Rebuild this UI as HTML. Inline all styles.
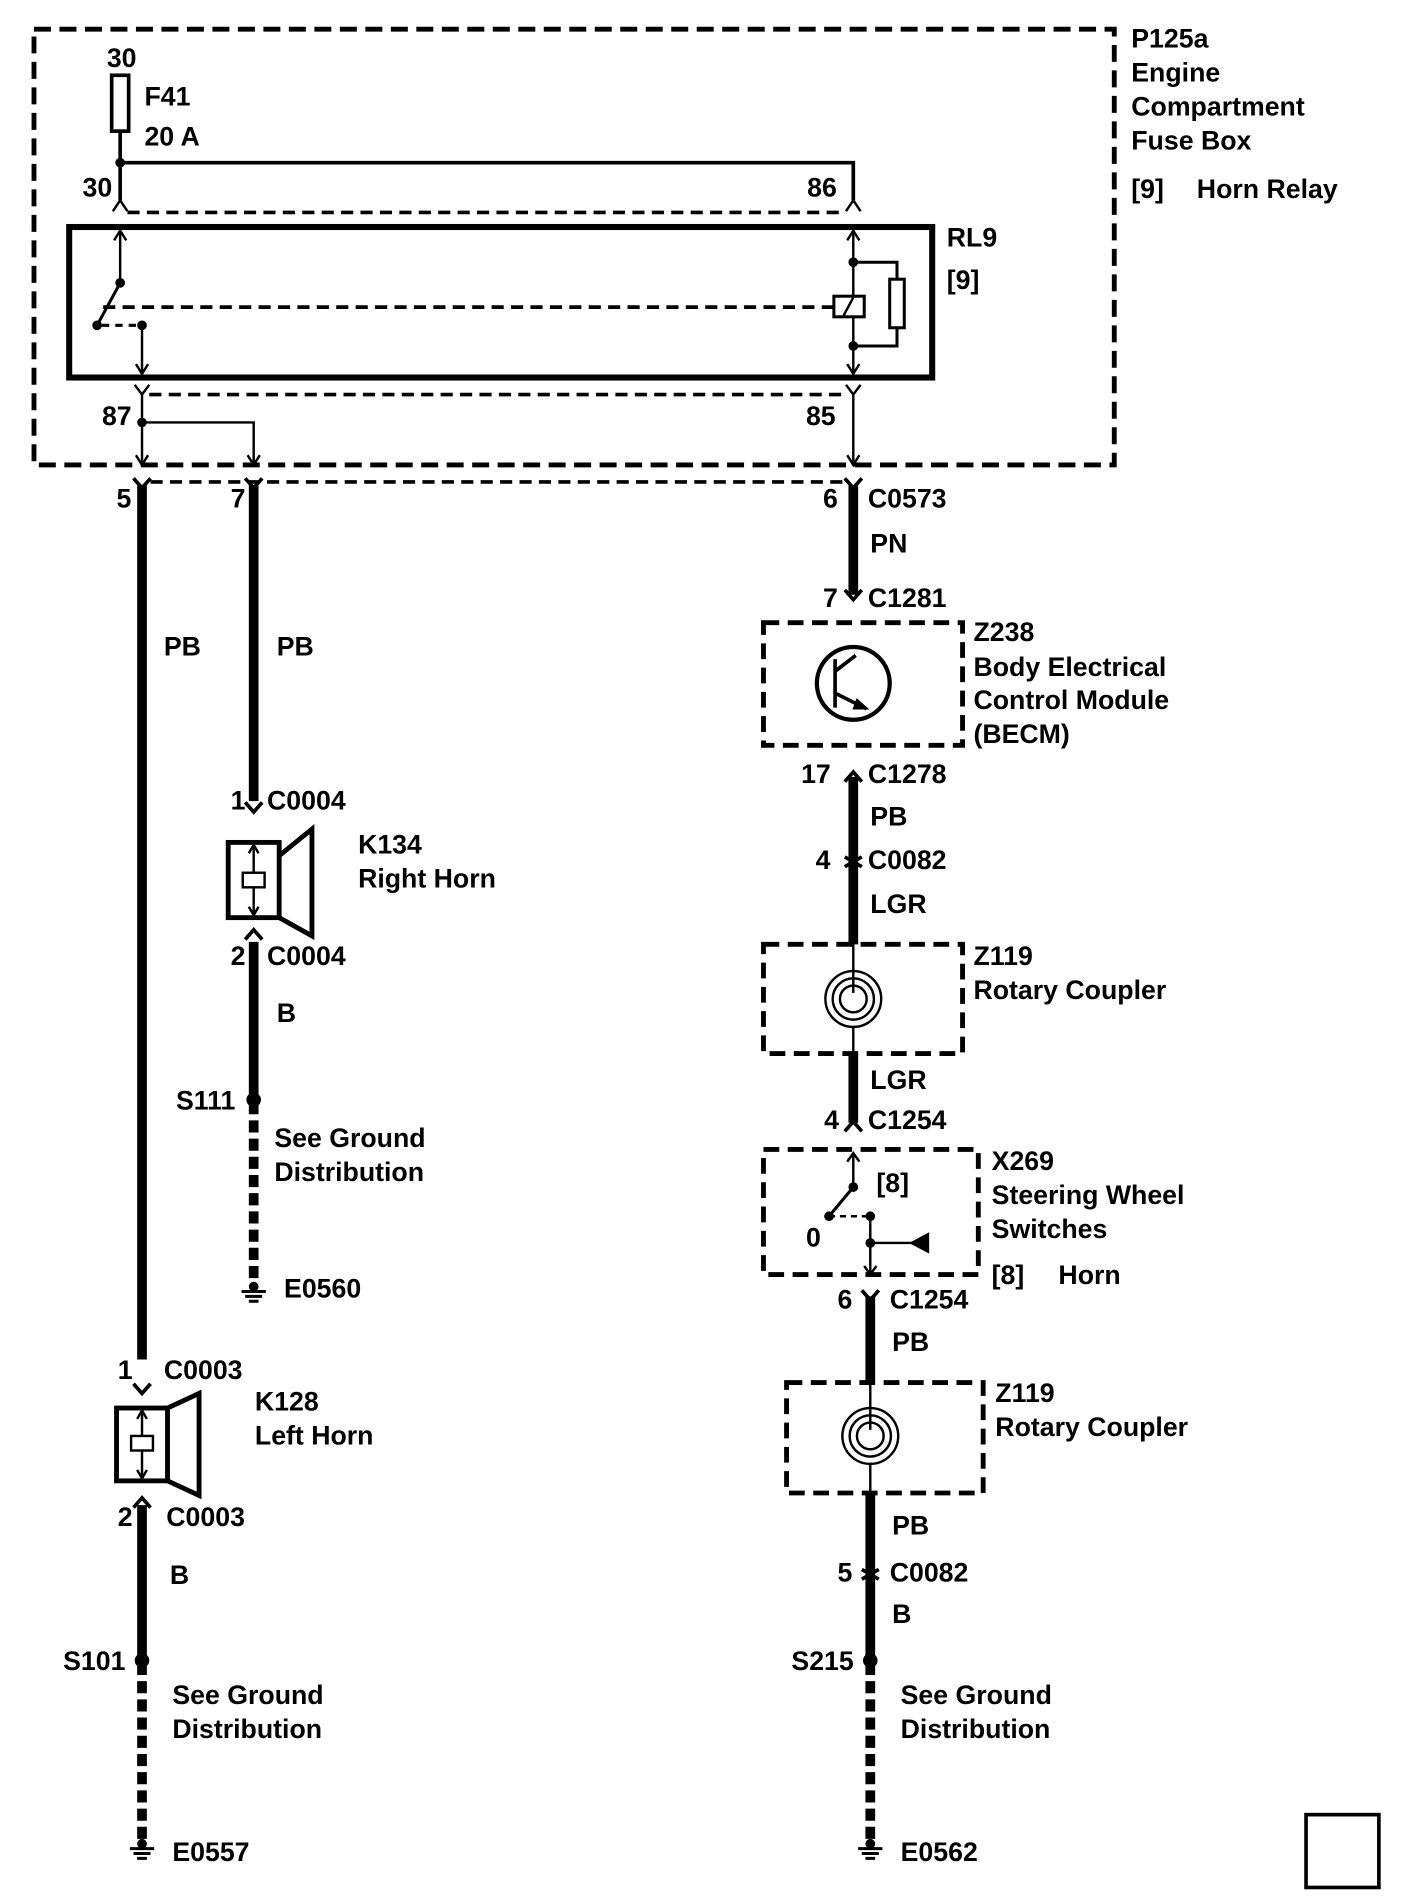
<!DOCTYPE html>
<html><head><meta charset="utf-8"><style>
html,body{margin:0;padding:0;background:#fff}
svg{display:block}
text{font-family:"Liberation Sans",Arial,sans-serif;font-weight:bold;font-size:22px;fill:#000}
</style></head><body>
<svg width="1408" height="1896" viewBox="0 0 1160 1562" xmlns="http://www.w3.org/2000/svg">
<g fill="none" stroke="#000">
<rect x="28" y="24" width="890" height="359" stroke-width="4" stroke-dasharray="14,7"/>
<rect x="92" y="62" width="14" height="46" stroke-width="3"/>
<path d="M99 108V165M99 134H703V165" stroke-width="3"/>
<path d="M93 174l6-9 6 9M697 174l6-9 6 9" stroke-width="2"/>
<path d="M105 175H697" stroke-width="3" stroke-dasharray="10,6"/>
<rect x="57" y="187" width="711" height="124" stroke-width="5"/>
<path d="M99 190V233M94 198l5-8 5 8" stroke-width="2"/>
<path d="M99 233L80 268" stroke-width="2.5"/>
<path d="M85 253H687" stroke-width="3" stroke-dasharray="10,6"/>
<path d="M84 268H112" stroke-width="2.5" stroke-dasharray="6,5"/>
<path d="M117 268V308M112 300l5 8 5-8" stroke-width="2"/>
<path d="M703 190V308M698 198l5-8 5 8M698 300l5 8 5-8" stroke-width="2"/>
<rect x="687" y="244" width="25" height="17" stroke-width="2.5" fill="#fff"/>
<path d="M695 260l8-15" stroke-width="2"/>
<rect x="733" y="230" width="12" height="40" stroke-width="2.5"/>
<path d="M703 216H739V230M739 270V285H703" stroke-width="2.5"/>
<path d="M111 317l6 8 6-8M697 317l6 8 6-8" stroke-width="2"/>
<path d="M123 325H697" stroke-width="3" stroke-dasharray="10,6"/>
<path d="M117 325V383M117 348H209V383M703 325V383" stroke-width="2"/>
<path d="M112 375l5 8 5-8M204 375l5 8 5-8M698 375l5 8 5-8" stroke-width="2"/>
<path d="M110 394l7 8 7-8M202 394l7 8 7-8M696 394l7 8 7-8" stroke-width="3"/>
<path d="M124 397H696" stroke-width="3" stroke-dasharray="10,6"/>
<g stroke-width="8">
<path d="M117 400V1120"/>
<path d="M209 400V660"/>
<path d="M703 400V490"/>
<path d="M703 640V778"/>
<path d="M703 868V925"/>
<path d="M717 1068V1139"/>
<path d="M717 1230V1368"/>
<path d="M209 776V906"/>
<path d="M117 1240V1368"/>
<path d="M117 1370V1518M209 908V1055M717 1370V1518" stroke-dasharray="10,5"/>
</g>
<path d="M696 486l7 8 7-8M696 644l7-8 7 8M696 932l7-8 7 8M710 1063l7 8 7-8" stroke-width="3"/>
<path d="M202 661l7 8 7-8M202 774l7-8 7 8M110 1140l7 8 7-8M110 1242l7-8 7 8" stroke-width="3"/>
<path d="M696 706l7 4 7-4M696 714l7-4 7 4M710 1293l7 4 7-4M710 1301l7-4 7 4" stroke-width="3"/>
<rect x="629" y="513" width="164" height="101" stroke-width="4" stroke-dasharray="13,7"/>
<circle cx="703" cy="563" r="30" stroke-width="3.5"/>
<path d="M688 543V583M688 553L705 540M688 571L714 584" stroke-width="3"/>
<path d="M706 576l9 8-12 0z" fill="#000" stroke-width="1"/>
<rect x="629" y="778" width="164" height="90" stroke-width="4" stroke-dasharray="13,7"/>
<path d="M703 778V818" stroke-width="2"/>
<circle cx="703" cy="823" r="11" stroke-width="2"/>
<circle cx="703" cy="823" r="17" stroke-width="2"/>
<circle cx="703" cy="823" r="23" stroke-width="2"/>
<path d="M703 846V868" stroke-width="2"/>
<rect x="629" y="947" width="177" height="103" stroke-width="4" stroke-dasharray="13,7"/>
<path d="M703 950V978M698 957l5-7 5 7" stroke-width="2"/>
<path d="M703 978L683 1002" stroke-width="2.5"/>
<path d="M683 1002H713" stroke-width="2" stroke-dasharray="5,4"/>
<path d="M717 1002V1050M717 1024H757M712 1043l5 7 5-7" stroke-width="2"/>
<path d="M765 1016V1032L750 1024z" fill="#000" stroke-width="1"/>
<rect x="648" y="1139" width="162" height="91" stroke-width="4" stroke-dasharray="13,7"/>
<path d="M717 1139V1178" stroke-width="2"/>
<circle cx="717" cy="1183" r="11" stroke-width="2"/>
<circle cx="717" cy="1183" r="17" stroke-width="2"/>
<circle cx="717" cy="1183" r="23" stroke-width="2"/>
<path d="M717 1206V1230" stroke-width="2"/>
<rect x="188" y="694" width="42" height="62" stroke-width="4"/>
<path d="M230 705L257 683V771L230 756" stroke-width="4"/>
<rect x="200" y="719" width="18" height="12" stroke-width="2"/>
<path d="M209 696V719M209 731V754M205 703l4-7 4 7M205 747l4 7 4-7" stroke-width="2"/>
<rect x="96" y="1160" width="42" height="60" stroke-width="4"/>
<path d="M138 1160L164 1148V1232L138 1220" stroke-width="4"/>
<rect x="108" y="1183" width="18" height="12" stroke-width="2"/>
<path d="M117 1162V1183M117 1195V1218M113 1169l4-7 4 7M113 1211l4 7 4-7" stroke-width="2"/>
<path d="M199 1064H219M202 1068H216M205 1072H213M107 1523H127M110 1527H124M113 1531H121M707 1523H727M710 1527H724M713 1531H721" stroke-width="2.5"/>
<rect x="1076" y="1495" width="60" height="60" stroke-width="3"/>
</g>
<g fill="#000">
<circle cx="99" cy="134" r="4"/><circle cx="99" cy="233" r="4"/><circle cx="80" cy="268" r="4"/><circle cx="117" cy="268" r="4"/>
<circle cx="703" cy="216" r="4"/><circle cx="703" cy="285" r="4"/><circle cx="117" cy="348" r="4"/>
<circle cx="703" cy="978" r="4"/><circle cx="683" cy="1002" r="4"/><circle cx="717" cy="1002" r="4"/><circle cx="717" cy="1024" r="4"/>
<circle cx="209" cy="906" r="6"/><circle cx="117" cy="1368" r="6"/><circle cx="717" cy="1368" r="6"/>
<circle cx="209" cy="1060" r="4"/><circle cx="117" cy="1519" r="4"/><circle cx="717" cy="1519" r="4"/>
</g>
<text x="88" y="55">30</text><text x="119" y="87">F41</text><text x="119" y="120">20 A</text>
<text x="68" y="162">30</text><text x="665" y="162">86</text>
<text x="932" y="39">P125a</text><text x="932" y="67">Engine</text><text x="932" y="95">Compartment</text><text x="932" y="123">Fuse Box</text>
<text x="932" y="163">[9]</text><text x="986" y="163">Horn Relay</text>
<text x="780" y="203">RL9</text><text x="780" y="238">[9]</text>
<text x="84" y="350">87</text><text x="664" y="350">85</text>
<text x="96" y="418">5</text><text x="190" y="418">7</text><text x="678" y="418">6</text><text x="715" y="418">C0573</text>
<text x="717" y="455">PN</text><text x="678" y="500">7</text><text x="715" y="500">C1281</text>
<text x="135" y="540">PB</text><text x="228" y="540">PB</text>
<text x="802" y="528">Z238</text><text x="802" y="557">Body Electrical</text><text x="802" y="584">Control Module</text><text x="802" y="612">(BECM)</text>
<text x="660" y="645">17</text><text x="715" y="645">C1278</text><text x="717" y="680">PB</text>
<text x="672" y="716">4</text><text x="715" y="716">C0082</text><text x="717" y="752">LGR</text>
<text x="802" y="795">Z119</text><text x="802" y="823">Rotary Coupler</text>
<text x="717" y="897">LGR</text><text x="679" y="930">4</text><text x="715" y="930">C1254</text>
<text x="817" y="964">X269</text><text x="817" y="992">Steering Wheel</text><text x="817" y="1020">Switches</text>
<text x="817" y="1058">[8]</text><text x="872" y="1058">Horn</text>
<text x="722" y="982">[8]</text><text x="664" y="1027">0</text>
<text x="690" y="1078">6</text><text x="733" y="1078">C1254</text><text x="735" y="1113">PB</text>
<text x="820" y="1155">Z119</text><text x="820" y="1183">Rotary Coupler</text>
<text x="735" y="1264">PB</text><text x="690" y="1303">5</text><text x="733" y="1303">C0082</text><text x="735" y="1337">B</text>
<text x="652" y="1376">S215</text><text x="742" y="1404">See Ground</text><text x="742" y="1432">Distribution</text><text x="742" y="1533">E0562</text>
<text x="190" y="667">1</text><text x="220" y="667">C0004</text>
<text x="295" y="703">K134</text><text x="295" y="731">Right Horn</text>
<text x="190" y="795">2</text><text x="220" y="795">C0004</text><text x="228" y="842">B</text>
<text x="145" y="914">S111</text><text x="226" y="945">See Ground</text><text x="226" y="973">Distribution</text><text x="234" y="1069">E0560</text>
<text x="97" y="1136">1</text><text x="135" y="1136">C0003</text>
<text x="210" y="1162">K128</text><text x="210" y="1190">Left Horn</text>
<text x="97" y="1257">2</text><text x="137" y="1257">C0003</text><text x="140" y="1305">B</text>
<text x="52" y="1376">S101</text><text x="142" y="1404">See Ground</text><text x="142" y="1432">Distribution</text><text x="142" y="1533">E0557</text>
</svg>
</body></html>
